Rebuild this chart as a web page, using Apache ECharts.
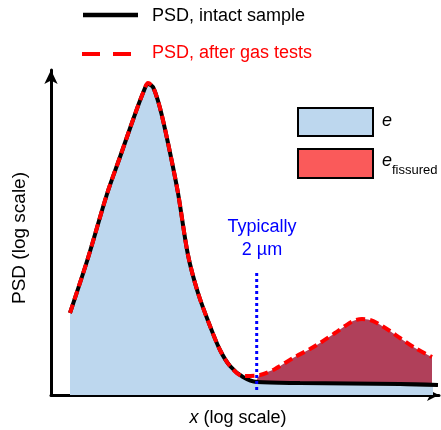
<!DOCTYPE html>
<html><head><meta charset="utf-8">
<script src="https://cdn.jsdelivr.net/npm/echarts@6/dist/echarts.min.js"></script>
<style>html,body{margin:0;padding:0;background:#fff}#c{width:441px;height:430px}</style>
</head><body><div id="c"></div>
<script>
// Black curve: PSD, intact sample (arbitrary units)
const blackX = [19, 37, 56, 69, 83, 92, 97, 102, 109, 117, 127, 137, 147, 159, 169, 179, 192, 206, 249, 349, 387];
const blackY = [82, 137, 201, 238, 278, 302, 311, 308, 287, 252, 202, 140, 102, 69, 45, 29, 18, 13, 12, 11, 10];
// Red dashed curve: PSD, after gas tests
const redX = [19, 37, 56, 69, 83, 92, 97, 102, 109, 117, 127, 137, 147, 159, 169, 179, 192, 209, 224, 242, 259, 269, 284, 294, 302, 311, 319, 326, 339, 349, 364, 381];
const redY = [82, 137, 201, 238, 278, 302, 312, 308, 287, 252, 202, 140, 102, 69, 45, 29, 19, 20, 26, 37, 46, 52, 62, 69, 74, 76, 75, 72, 64, 57, 47, 38];
// fissured region (between curves) and e region (under black curve)
const fissStart = 205, fissEnd = 381;
const eEnd = 382;
const cutX = 205.7, cutY = [5, 123];
const legendLabels = ['PSD, intact sample', 'PSD, after gas tests'];
const boxLabels = ['e', 'fissured'];

const pairs = (xs, ys) => xs.map((x, i) => [x, ys[i]]);
const blackData = pairs(blackX, blackY);
const redData = pairs(redX, redY);
const fissData = [[fissStart, 14]].concat(redData.filter(p => p[0] > fissStart && p[0] <= fissEnd));
const eData = blackData.filter(p => p[0] < eEnd).concat([[eEnd, 10]]);

const FONT = '"Liberation Sans", Arial, sans-serif';
const chart = echarts.init(document.getElementById('c'), null, {renderer: 'canvas'});
chart.setOption({
  animation: false,
  grid: {left: 51, right: 2, top: 70, bottom: 35},
  xAxis: {type: 'value', min: 0, max: 388,
    axisLine: {lineStyle: {color: '#000', width: 3}, symbol: ['none', 'arrow'], symbolSize: [9, 12]},
    axisTick: {show: false}, axisLabel: {show: false}, splitLine: {show: false}},
  yAxis: {type: 'value', min: 0, max: 325,
    axisLine: {show: true, lineStyle: {color: '#000', width: 3}, symbol: ['none', 'arrow'], symbolSize: [10, 14]},
    axisTick: {show: false}, axisLabel: {show: false}, splitLine: {show: false}},
  series: [
    {type: 'line', data: fissData, smooth: 0.3, symbol: 'none', lineStyle: {width: 0, opacity: 0},
      areaStyle: {color: '#b0405a', opacity: 1}, z: 1},
    {type: 'line', data: eData, smooth: 0.3, symbol: 'none', lineStyle: {width: 0, opacity: 0},
      areaStyle: {color: '#bdd7ee', opacity: 1}, z: 2},
    {type: 'line', data: blackData, smooth: 0.3, symbol: 'none', lineStyle: {color: '#000', width: 4}, z: 3},
    {type: 'line', data: redData, smooth: 0.3, symbol: 'none', lineStyle: {color: '#ff0000', width: 4, type: [9, 5]}, z: 4},
    {type: 'line', data: [[cutX, cutY[0]], [cutX, cutY[1]]], symbol: 'none', lineStyle: {color: '#0000ff', width: 3, type: [3, 3]}, z: 5}
  ],
  graphic: [
    {type: 'line', shape: {x1: 83, y1: 15, x2: 138, y2: 15}, style: {stroke: '#000', lineWidth: 4.5}},
    {type: 'text', x: 152, y: 16, style: {text: legendLabels[0], font: '18px ' + FONT, fill: '#000', verticalAlign: 'middle'}},
    {type: 'line', shape: {x1: 82, y1: 54, x2: 132, y2: 54}, style: {stroke: '#ff0000', lineWidth: 4, lineDash: [18, 13]}},
    {type: 'text', x: 152, y: 53, style: {text: legendLabels[1], font: '18px ' + FONT, fill: '#ff0000', verticalAlign: 'middle'}},
    {type: 'rect', shape: {x: 298, y: 108, width: 75, height: 28}, style: {fill: '#bdd7ee', stroke: '#000', lineWidth: 2}},
    {type: 'rect', shape: {x: 298, y: 149, width: 75, height: 29}, style: {fill: '#fa5a5a', stroke: '#000', lineWidth: 2}},
    {type: 'text', x: 382, y: 121, style: {text: boxLabels[0], font: 'italic 18px ' + FONT, fill: '#000', verticalAlign: 'middle'}},
    {type: 'text', x: 382, y: 161, style: {text: boxLabels[0], font: 'italic 18px ' + FONT, fill: '#000', verticalAlign: 'middle'}},
    {type: 'text', x: 392, y: 170, style: {text: boxLabels[1], font: '13px ' + FONT, fill: '#000', verticalAlign: 'middle'}},
    {type: 'text', x: 262, y: 227, style: {text: 'Typically', font: '18px ' + FONT, fill: '#0000ff', align: 'center', verticalAlign: 'middle'}},
    {type: 'text', x: 262, y: 250, style: {text: '2 \u00b5m', font: '18px ' + FONT, fill: '#0000ff', align: 'center', verticalAlign: 'middle'}},
    {type: 'text', x: 238, y: 418, style: {text: '{i|x} (log scale)', font: '18px ' + FONT, fill: '#000', align: 'center', verticalAlign: 'middle',
      rich: {i: {fontStyle: 'italic', fontSize: 18, fontFamily: FONT}}}},
    {type: 'text', x: 20, y: 238, rotation: Math.PI / 2, style: {text: 'PSD (log scale)', font: '19px ' + FONT, fill: '#000', align: 'center', verticalAlign: 'middle'}}
  ]
});
</script></body></html>
